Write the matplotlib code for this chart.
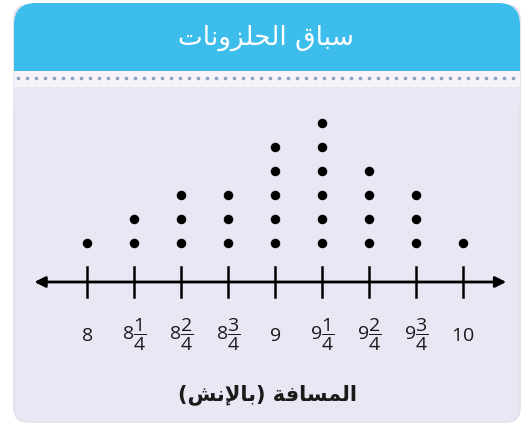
import matplotlib
matplotlib.use("Agg")
import matplotlib.pyplot as plt
from matplotlib.patches import FancyBboxPatch, Rectangle

# --- data ---
positions = [8, 8.25, 8.5, 8.75, 9, 9.25, 9.5, 9.75, 10]
counts = [1, 2, 3, 3, 5, 6, 4, 3, 1]
tick_labels = [r"$8$", r"$8\dfrac{1}{4}$", r"$8\dfrac{2}{4}$", r"$8\dfrac{3}{4}$", r"$9$",
               r"$9\dfrac{1}{4}$", r"$9\dfrac{2}{4}$", r"$9\dfrac{3}{4}$", r"$10$"]
title_ar = "سباق الحلزونات"
xlabel_ar = "المسافة (بالإنش)"

# --- tiny arabic shaper (matplotlib has no shaping) ---
FORMS = {  # isolated, final, initial, medial
    "ا": (0xFE8D, 0xFE8E, None, None), "إ": (0xFE87, 0xFE88, None, None),
    "ب": (0xFE8F, 0xFE90, 0xFE91, 0xFE92), "ت": (0xFE95, 0xFE96, 0xFE97, 0xFE98),
    "ة": (0xFE93, 0xFE94, None, None), "ح": (0xFEA1, 0xFEA2, 0xFEA3, 0xFEA4),
    "ز": (0xFEAF, 0xFEB0, None, None), "س": (0xFEB1, 0xFEB2, 0xFEB3, 0xFEB4),
    "ش": (0xFEB5, 0xFEB6, 0xFEB7, 0xFEB8), "ف": (0xFED1, 0xFED2, 0xFED3, 0xFED4),
    "ق": (0xFED5, 0xFED6, 0xFED7, 0xFED8), "ل": (0xFEDD, 0xFEDE, 0xFEDF, 0xFEE0),
    "م": (0xFEE1, 0xFEE2, 0xFEE3, 0xFEE4), "ن": (0xFEE5, 0xFEE6, 0xFEE7, 0xFEE8),
    "و": (0xFEED, 0xFEEE, None, None),
}
LAMALEF = {"ا": (0xFEFB, 0xFEFC), "إ": (0xFEF9, 0xFEFA)}


def joins_left(c):
    return c in FORMS and FORMS[c][2] is not None


def shape(text):
    out = []
    i = 0
    while i < len(text):
        c = text[i]
        prev = text[i - 1] if i > 0 else ""
        nxt = text[i + 1] if i + 1 < len(text) else ""
        if c not in FORMS:
            out.append(c)
            i += 1
            continue
        right = joins_left(prev)
        if c == "ل" and nxt in LAMALEF:
            out.append(chr(LAMALEF[nxt][1 if right else 0]))
            i += 2
            continue
        left = joins_left(c) and nxt in FORMS
        iso, fin, ini, med = FORMS[c]
        if right and left:
            g = med
        elif right:
            g = fin
        elif left:
            g = ini
        else:
            g = iso
        out.append(chr(g))
        i += 1
    vis = "".join(reversed(out))
    return vis.translate(str.maketrans("()", ")("))


plt.rcParams["mathtext.fontset"] = "custom"
plt.rcParams["mathtext.rm"] = "Open Sans"
plt.rcParams["mathtext.it"] = "Open Sans"

W, H = 528, 435
fig = plt.figure(figsize=(W / 100, H / 100), dpi=100)
fig.patch.set_facecolor("white")

# card background in pixel coordinates
bg = fig.add_axes([0, 0, 1, 1])
bg.set_xlim(0, W)
bg.set_ylim(H, 0)
bg.axis("off")
bg.add_patch(FancyBboxPatch((14, 6), 506, 417, boxstyle="round,pad=0,rounding_size=14",
                            fc="#ebe6f3", ec="#e0dce8", lw=1))
bg.add_patch(FancyBboxPatch((14, 4), 506, 90, boxstyle="round,pad=0,rounding_size=22",
                            fc="#3dbdeb", ec="none"))
bg.add_patch(Rectangle((14, 72), 506, 16, fc="#f6f3fa", ec="none"))
bg.add_patch(Rectangle((14, 88), 506, 20, fc="#ebe6f3", ec="none"))
dot_x = list(range(18, 520, 9))
bg.plot(dot_x, [79] * len(dot_x), ls="none", marker="o", ms=1.6, color="#8fa0c0")
bg.text(W / 2 + 2, 38, shape(title_ar), color="white", fontsize=19,
        ha="center", va="center", family="DejaVu Sans")

# dot plot: x in inches of distance, y in stacked count (24 px per dot)
ax = fig.add_axes([87 / W, 1 - 310 / H, (463 - 87) / W, 210 / H])
ax.set_xlim(8, 10)
ax.set_ylim(-1.75, 7)
ax.axis("off")
for x, n in zip(positions, counts):
    ax.scatter([x] * n, range(1, n + 1), s=34, color="black", zorder=3, clip_on=False)

# number line
line_y = -0.625
ax.annotate("", xy=(7.72, line_y), xytext=(10.23, line_y),
            arrowprops=dict(arrowstyle="<|-|>", lw=2, color="black",
                            mutation_scale=16, shrinkA=0, shrinkB=0),
            annotation_clip=False)
for x, lab in zip(positions, tick_labels):
    ax.plot([x, x], [line_y - 0.62, line_y + 0.62], color="black", lw=1.8, clip_on=False)
    ax.text(x, -2.8, lab, ha="center", va="center", fontsize=14, color="#1a1a1a")

bg.text(W / 2 + 3, 395, shape(xlabel_ar), color="#1a1a1a", fontsize=15,
        ha="center", va="center", family="DejaVu Sans", weight="bold")

fig.savefig("out.png", dpi=100)
